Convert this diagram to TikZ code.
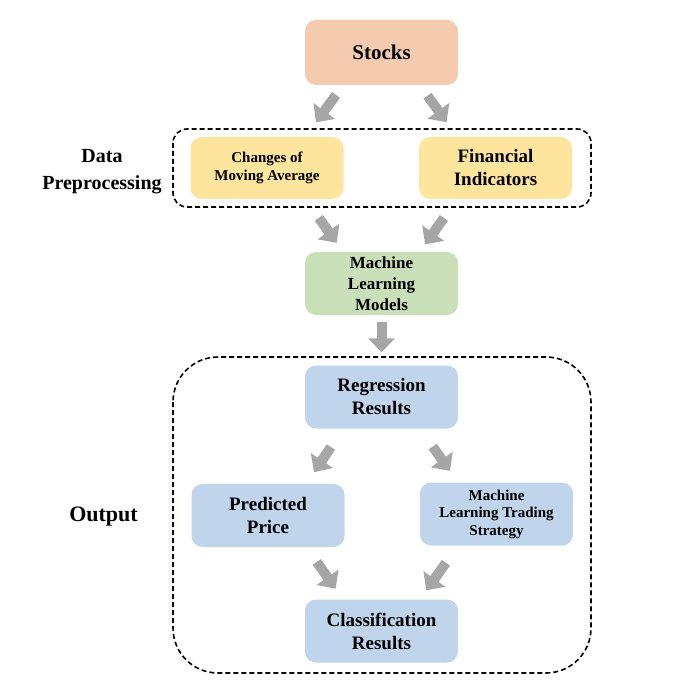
\documentclass[tikz,border=0pt]{standalone}
\usepackage{fontspec}
\setmainfont{Liberation Serif}
\usetikzlibrary{arrows.meta,calc}
\definecolor{peach}{HTML}{F4CBAE}
\definecolor{lemon}{HTML}{FDE59E}
\definecolor{sage}{HTML}{C9DFB8}
\definecolor{skyblue}{HTML}{C0D5EC}
\definecolor{arrowgray}{HTML}{A6A6A6}

\begin{document}
\begin{tikzpicture}[x=1pt,y=1pt,
  box/.style={rounded corners=11pt, minimum width=153pt, minimum height=63pt, align=center, inner sep=0pt},
  flow/.style={draw=arrowgray, line width=10pt, -{Triangle[width=26pt,length=14pt]}},
  dashbox/.style={draw=black, line width=1.6pt, dash pattern=on 5pt off 3pt}]
\useasboundingbox (0,0) rectangle (700,-700);
\node [box, fill=peach, minimum height=65pt, font=\fontsize{21}{25}\selectfont\bfseries] (stocks) at (381.5,-52.5) {Stocks};
\node [box, fill=lemon, minimum height=62pt, font=\fontsize{15}{18}\selectfont\bfseries] (cmavg) at (267,-168) {Changes of\\Moving Average};
\node [box, fill=lemon, minimum height=62pt, font=\fontsize{19}{23}\selectfont\bfseries] (finind) at (495.5,-168) {Financial\\Indicators};
\node [box, fill=sage, font=\fontsize{17}{21}\selectfont\bfseries] (mlmod) at (381.5,-283.5) {Machine\\Learning\\Models};
\node [box, fill=skyblue, font=\fontsize{19}{23}\selectfont\bfseries] (regres) at (381.5,-397) {Regression\\Results};
\node [box, fill=skyblue, font=\fontsize{19}{23}\selectfont\bfseries] (predpr) at (268,-515.5) {Predicted\\Price};
\node [box, fill=skyblue, font=\fontsize{15}{17.5}\selectfont\bfseries] (mlstrat) at (496.5,-514) {Machine\\Learning Trading\\Strategy};
\node [box, fill=skyblue, font=\fontsize{19}{23}\selectfont\bfseries] (classres) at (381.5,-631) {Classification\\Results};
\node [align=center, font=\fontsize{20}{27}\selectfont\bfseries] (prep) at (102,-172) {Data\\Preprocessing};
\node [font=\fontsize{22}{26}\selectfont\bfseries] (output) at (103.5,-517) {Output};
% dashed groups
\draw [dashbox, rounded corners=14pt] (173,-129) rectangle (591,-207);
\draw [dashbox, rounded corners=45pt] (173,-357) rectangle (591,-673);
% arrows
\draw [flow, shorten <=12pt, shorten >=18pt] ($(stocks.south west)!0.5!(stocks.south)$) -- ($(cmavg.north)!0.5!(cmavg.north east)$);
\draw [flow, shorten <=13pt, shorten >=18pt] ($(stocks.south)!0.5!(stocks.south east)$) -- ($(finind.north west)!0.5!(finind.north)$);
\draw [flow, shorten <=23pt, shorten >=11pt] ($(cmavg.south)!0.5!(cmavg.south east)$) -- ($(mlmod.north west)!0.5!(mlmod.north)$);
\draw [flow, shorten <=23pt, shorten >=9pt] ($(finind.south west)!0.5!(finind.south)$) -- ($(mlmod.north)!0.5!(mlmod.north east)$);
\draw [flow, shorten <=7pt, shorten >=13pt] (mlmod.south) -- (regres.north);
\draw [flow, shorten <=22pt, shorten >=14pt] ($(regres.south west)!0.5!(regres.south)$) -- ($(predpr.north)!0.5!(predpr.north east)$);
\draw [flow, shorten <=22pt, shorten >=14pt] ($(regres.south)!0.5!(regres.south east)$) -- ($(mlstrat.north west)!0.5!(mlstrat.north)$);
\draw [flow, shorten <=18pt, shorten >=13pt] ($(predpr.south)!0.5!(predpr.south east)$) -- ($(classres.north west)!0.5!(classres.north)$);
\draw [flow, shorten <=21pt, shorten >=11pt] ($(mlstrat.south west)!0.5!(mlstrat.south)$) -- ($(classres.north)!0.5!(classres.north east)$);
\end{tikzpicture}
\end{document}
